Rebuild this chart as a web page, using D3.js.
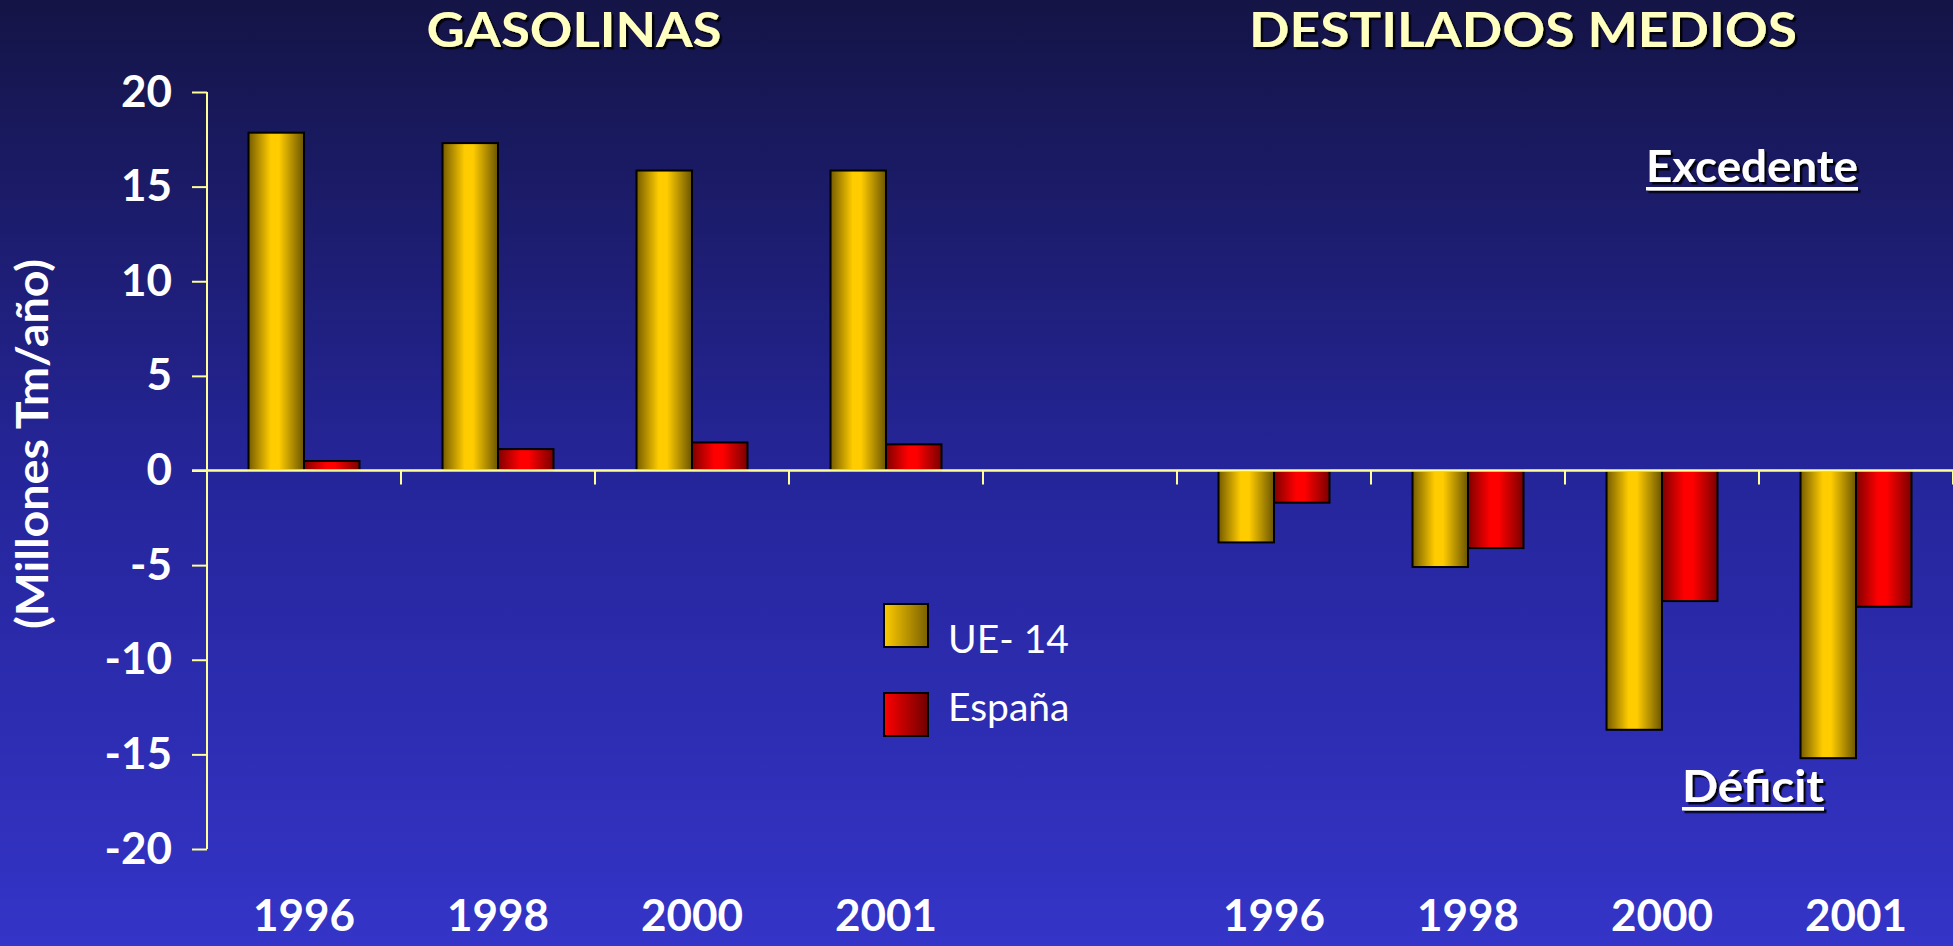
<!DOCTYPE html>
<html lang="es">
<head>
    <meta charset="UTF-8">
    <title>Gasolinas y destilados medios - balance</title>
    <script src="https://cdn.jsdelivr.net/npm/d3@7"></script>
    <style>
        html, body { margin: 0; padding: 0; overflow: hidden; }
        text { font-family: "Comic Sans MS", "Lato", sans-serif; }
        .tick text { fill: #ffffff; font-weight: bold; font-size: 44px; }
        .year { fill: #ffffff; font-weight: bold; font-size: 44px; }
        .title { fill: #ffffc0; font-weight: bold; font-size: 48px; }
        .note { fill: #ffffff; font-weight: bold; font-size: 44px; }
        .legend-label { fill: #ffffff; font-size: 39px; }
    </style>
</head>
<body>
<div class="container"></div>
<script>
    // data (millones Tm/año)
    const years = ["1996", "1998", "2000", "2001"];
    const groupTitles = ["GASOLINAS", "DESTILADOS MEDIOS"];
    const seriesNames = ["UE- 14", "España"];
    const gasUE = [17.85, 17.3, 15.85, 15.85];
    const gasEsp = [0.5, 1.13, 1.48, 1.38];
    const destUE = [-3.8, -5.1, -13.7, -15.2];
    const destEsp = [-1.7, -4.1, -6.9, -7.2];
    const yTicks = [-20, -15, -10, -5, 0, 5, 10, 15, 20];

    const width = 1953, height = 946;
    const margin = {top: 92, left: 207, right: 0, bottom: 97};

    const svg = d3.select(".container").append("svg")
        .attr("width", width)
        .attr("height", height)
        .style("display", "block");

    const defs = svg.append("defs");

    // slide background
    const bg = defs.append("linearGradient").attr("id", "bg")
        .attr("x1", 0).attr("y1", 0).attr("x2", 0).attr("y2", 1);
    bg.append("stop").attr("offset", 0).attr("stop-color", "#141446");
    bg.append("stop").attr("offset", 0.5).attr("stop-color", "#25259a");
    bg.append("stop").attr("offset", 1).attr("stop-color", "#3434c8");

    // cylinder-like fills for the bars
    function cylinder(id, dark1, light, dark2) {
        const g = defs.append("linearGradient").attr("id", id)
            .attr("x1", 0).attr("y1", 0).attr("x2", 1).attr("y2", 0);
        g.append("stop").attr("offset", 0).attr("stop-color", dark1);
        g.append("stop").attr("offset", 0.4).attr("stop-color", light);
        g.append("stop").attr("offset", 0.55).attr("stop-color", light);
        g.append("stop").attr("offset", 1).attr("stop-color", dark2);
    }
    cylinder("goldBar", "#755c00", "#ffcc00", "#6b5500");
    cylinder("redBar", "#800000", "#ff0000", "#7a0000");

    function ramp(id, from, to) {
        const g = defs.append("linearGradient").attr("id", id)
            .attr("x1", 0).attr("y1", 0).attr("x2", 1).attr("y2", 0);
        g.append("stop").attr("offset", 0).attr("stop-color", from);
        g.append("stop").attr("offset", 1).attr("stop-color", to);
    }
    ramp("goldKey", "#ffcc00", "#7a6000");
    ramp("redKey", "#ff0000", "#700000");

    const shadow = defs.append("filter").attr("id", "shadow")
        .attr("x", "-10%").attr("y", "-20%").attr("width", "130%").attr("height", "150%");
    shadow.append("feDropShadow").attr("dx", 2.5).attr("dy", 2.5)
        .attr("stdDeviation", 0.6).attr("flood-color", "#000").attr("flood-opacity", 0.9);

    svg.append("rect").attr("width", width).attr("height", height).attr("fill", "url(#bg)");

    ////////////////////////////////////////////////////////////////
    /*                     scales                                 */
    ////////////////////////////////////////////////////////////////
    // 4 gasolinas slots, one empty slot, 4 destilados slots
    const slots = years.map(d => "G" + d).concat(["gap"], years.map(d => "D" + d));
    const x = d3.scaleBand().domain(slots).range([margin.left, width - margin.right]);
    const y = d3.scaleLinear().domain([-20, 20]).range([height - margin.bottom, margin.top]);

    const barW = x.bandwidth() * 0.286;

    const rows = [];
    years.forEach((yr, i) => {
        rows.push({slot: "G" + yr, year: yr, ue: gasUE[i], esp: gasEsp[i]});
    });
    years.forEach((yr, i) => {
        rows.push({slot: "D" + yr, year: yr, ue: destUE[i], esp: destEsp[i]});
    });

    ////////////////////////////////////////////////////////////////
    /*                     axes                                   */
    ////////////////////////////////////////////////////////////////
    const axisColor = "#ffff99";

    const yAxis = svg.append("g")
        .attr("transform", `translate(${margin.left},0)`)
        .call(d3.axisLeft(y).tickValues(yTicks).tickSize(15).tickPadding(20)
            .tickFormat(d => String(d)));
    yAxis.select(".domain").remove();
    yAxis.selectAll(".tick line").attr("stroke", axisColor).attr("stroke-width", 2);
    yAxis.append("line")
        .attr("x1", 0).attr("x2", 0)
        .attr("y1", y(20)).attr("y2", y(-20))
        .attr("stroke", axisColor).attr("stroke-width", 2);

    // category boundaries ticks under the zero line
    svg.append("g").selectAll("line")
        .data(slots)
        .join("line")
        .attr("x1", d => x(d) + x.bandwidth())
        .attr("x2", d => x(d) + x.bandwidth())
        .attr("y1", y(0))
        .attr("y2", y(0) + 14)
        .attr("stroke", axisColor)
        .attr("stroke-width", 2);

    // bars
    const barGroups = svg.append("g").selectAll("g")
        .data(rows)
        .join("g")
        .attr("transform", d => `translate(${x(d.slot) + x.bandwidth() / 2},0)`);

    barGroups.append("rect")
        .attr("x", -barW)
        .attr("y", d => y(Math.max(0, d.ue)))
        .attr("width", barW)
        .attr("height", d => Math.abs(y(d.ue) - y(0)))
        .attr("fill", "url(#goldBar)")
        .attr("stroke", "#000")
        .attr("stroke-width", 2);

    barGroups.append("rect")
        .attr("x", 0)
        .attr("y", d => y(Math.max(0, d.esp)))
        .attr("width", barW)
        .attr("height", d => Math.abs(y(d.esp) - y(0)))
        .attr("fill", "url(#redBar)")
        .attr("stroke", "#000")
        .attr("stroke-width", 2);

    // zero line across the whole width
    svg.append("line")
        .attr("x1", margin.left - 15).attr("x2", width)
        .attr("y1", y(0)).attr("y2", y(0))
        .attr("stroke", axisColor).attr("stroke-width", 2.5);

    // year labels
    svg.append("g").selectAll("text")
        .data(rows)
        .join("text")
        .attr("class", "year")
        .attr("x", d => x(d.slot) + x.bandwidth() / 2)
        .attr("y", 931)
        .attr("text-anchor", "middle")
        .text(d => d.year);

    // axis title
    svg.append("text")
        .attr("class", "note")
        .attr("transform", `translate(48,444) rotate(-90)`)
        .attr("text-anchor", "middle")
        .attr("textLength", 370)
        .attr("lengthAdjust", "spacingAndGlyphs")
        .text("(Millones Tm/año)");

    ////////////////////////////////////////////////////////////////
    /*                     titles and notes                       */
    ////////////////////////////////////////////////////////////////
    const titleSpecs = [
        {cx: 574, w: 295},
        {cx: 1523, w: 548}
    ];
    svg.append("g").selectAll("text")
        .data(groupTitles)
        .join("text")
        .attr("class", "title")
        .attr("filter", "url(#shadow)")
        .attr("x", (d, i) => titleSpecs[i].cx - titleSpecs[i].w / 2)
        .attr("y", 47)
        .attr("textLength", (d, i) => titleSpecs[i].w)
        .attr("lengthAdjust", "spacingAndGlyphs")
        .text(d => d);

    function underlined(label, x0, base, w) {
        const g = svg.append("g").attr("filter", "url(#shadow)");
        g.append("text")
            .attr("class", "note")
            .attr("x", x0).attr("y", base)
            .attr("textLength", w)
            .attr("lengthAdjust", "spacingAndGlyphs")
            .text(label);
        g.append("rect")
            .attr("x", x0).attr("y", base + 5)
            .attr("width", w).attr("height", 3.5)
            .attr("fill", "#ffffff");
    }
    underlined("Excedente", 1646, 182, 212);
    underlined("Déficit", 1682, 802, 142);

    ////////////////////////////////////////////////////////////////
    /*                     legend                                 */
    ////////////////////////////////////////////////////////////////
    const legend = svg.append("g").attr("transform", "translate(884,604)");
    const keyFills = ["url(#goldKey)", "url(#redKey)"];
    legend.selectAll("rect")
        .data(seriesNames)
        .join("rect")
        .attr("y", (d, i) => i * 89)
        .attr("width", 44).attr("height", 43)
        .attr("fill", (d, i) => keyFills[i])
        .attr("stroke", "#000").attr("stroke-width", 2);
    legend.selectAll("text")
        .data(seriesNames)
        .join("text")
        .attr("class", "legend-label")
        .attr("x", 64)
        .attr("y", (d, i) => 49 + i * 68)
        .text(d => d);
</script>
</body>
</html>
